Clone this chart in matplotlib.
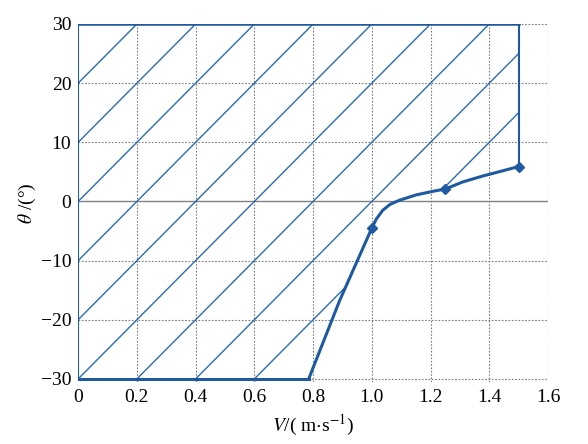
import numpy as np
import matplotlib.pyplot as plt
from matplotlib.patches import Polygon

plt.rcParams['font.family'] = ['Liberation Serif', 'DejaVu Serif']
plt.rcParams['mathtext.fontset'] = 'stix'

# boundary curve (V in m/s, theta in degrees)
curve_v = [0.785, 0.89, 1.0, 1.015, 1.037, 1.062, 1.094, 1.151, 1.207, 1.25, 1.31, 1.378, 1.44, 1.5]
curve_theta = [-30, -16.8, -4.5, -3.0, -1.5, -0.5, 0.2, 1.1, 1.7, 2.1, 3.3, 4.3, 5.1, 5.9]
# measured points (diamonds)
mark_v = [1.0, 1.25, 1.5]
mark_theta = [-4.5, 2.1, 5.9]

v_min, v_max = 0.0, 1.5
theta_min, theta_max = -30, 30

xticks = [0, 0.2, 0.4, 0.6, 0.8, 1.0, 1.2, 1.4, 1.6]
xticklabels = ['0', '0.2', '0.4', '0.6', '0.8', '1.0', '1.2', '1.4', '1.6']
yticks = [-30, -20, -10, 0, 10, 20, 30]
yticklabels = ['\u221230', '\u221220', '\u221210', '0', '10', '20', '30']

blue = '#1f5aa0'
hatch_blue = '#2a6cb0'
grid_gray = '#7a7a7a'

fig = plt.figure(figsize=(5.88, 4.44), dpi=100)
ax = fig.add_axes([0.133, 0.140, 0.799, 0.806])

# region outline: curve, right edge, top, left edge, bottom
poly_x = [v_min] + curve_v + [v_max, v_min]
poly_y = [theta_min] + curve_theta + [theta_max, theta_max]
region = Polygon(np.column_stack([poly_x, poly_y]), closed=True,
                 facecolor='none', edgecolor='none')
ax.add_patch(region)

# diagonal hatch lines clipped to the region
xs = np.array([-0.5, 2.0])
for c in range(20, -80, -10):
    ln, = ax.plot(xs, 50 * xs + c, color=hatch_blue, lw=1.0, zorder=2)
    ln.set_clip_path(region)

# outline
ax.plot([v_min, curve_v[0]], [theta_min, theta_min], color=blue, lw=2.2, zorder=3)
ax.plot([v_min, v_min], [theta_min, theta_max], color=blue, lw=1.5, zorder=3)
ax.plot([v_min, v_max], [theta_max, theta_max], color=blue, lw=1.8, zorder=3)
ax.plot([v_max, v_max], [curve_theta[-1], theta_max], color=blue, lw=1.5, zorder=3)
ax.plot(curve_v, curve_theta, color=blue, lw=2.2, zorder=3,
        solid_joinstyle='round')
ax.plot(mark_v, mark_theta, 'D', color=blue, ms=5, zorder=4)

ax.set_xlim(0, 1.6)
ax.set_ylim(-30.5, 30)
ax.set_xticks(xticks)
ax.set_xticklabels(xticklabels)
ax.set_yticks(yticks)
ax.set_yticklabels(yticklabels)
ax.tick_params(length=0, labelsize=14, pad=5)
for s in ax.spines.values():
    s.set_visible(False)

for t in xticks[1:]:
    ax.axvline(t, color=grid_gray, lw=0.8, ls=(0, (1.5, 1.5)), zorder=1)
for t in yticks:
    if t == 0:
        ax.axhline(0, color='#808080', lw=1.0, zorder=1)
    else:
        ax.axhline(t, color=grid_gray, lw=0.8, ls=(0, (1.5, 1.5)), zorder=1)

ax.set_xlabel(r'$V$/( m$\cdot$s$^{-1}$)', fontsize=14, labelpad=5)
ax.set_ylabel(r'$\theta$ /(°)', fontsize=14, labelpad=2)

fig.savefig('out.png', dpi=100)
